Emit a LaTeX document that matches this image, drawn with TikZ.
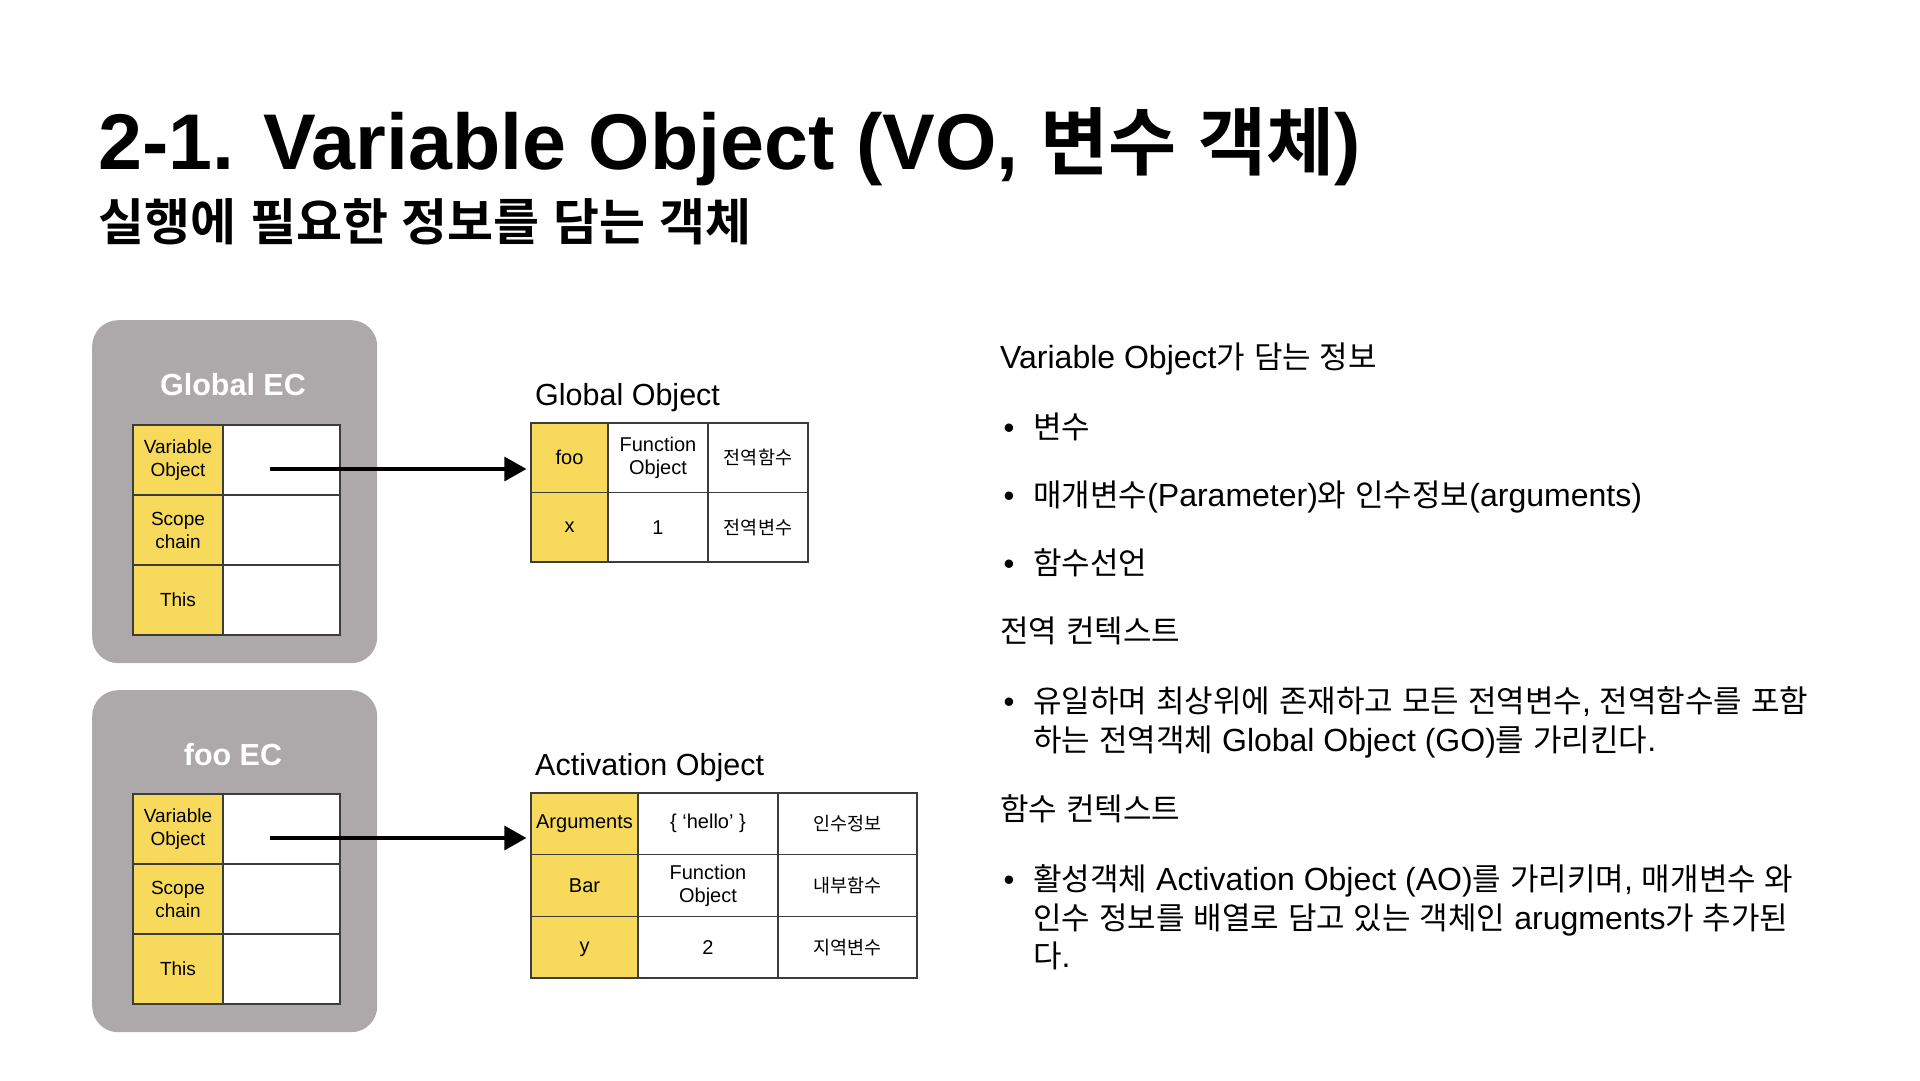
\documentclass[tikz,border=0pt]{standalone}
\usepackage{fontspec}
\usetikzlibrary{arrows.meta}
\setmainfont{Liberation Sans}
\newfontfamily\krfont{Noto Sans CJK KR}[BoldFont={Noto Sans CJK KR Bold}]
% Korean text at a given size: \kr{size}{text}
\newcommand\kr[2]{{\fontsize{#1}{#1}\selectfont\krfont #2}}
% Korean words in the right-hand column
\newcommand\hk[1]{\kr{31}{#1}}
% Korean words inside the table cells
\newcommand\ck[1]{\kr{18.5}{#1}}
\definecolor{ecgray}{RGB}{173,169,170}
\definecolor{cellyellow}{RGB}{247,217,92}
\definecolor{rulegray}{RGB}{60,60,60}

\begin{document}
\begin{tikzpicture}[x=1pt,y=-1pt,
  ecbox/.style={fill=ecgray, rounded corners=26pt, inner sep=0pt, anchor=north west},
  ectitle/.style={text=white, inner sep=0pt, font=\fontsize{30.5}{34}\selectfont\bfseries},
  cell/.style={draw=rulegray, line width=1.2pt, inner sep=0pt, align=center, anchor=center},
  keycell/.style={cell, fill=cellyellow},
  valcell/.style={cell, fill=white},
  ecfont/.style={font=\fontsize{19}{23}\selectfont},
  objfont/.style={font=\fontsize{20}{23}\selectfont},
  caption/.style={anchor=base west, inner sep=0pt, font=\fontsize{30.5}{34}\selectfont},
  pointer/.style={line width=3.2pt, -{Triangle[length=22pt,width=24pt]}, shorten >=4pt},
  body/.style={anchor=base west, inner sep=0pt, font=\fontsize{32}{36}\selectfont},
  bullet/.style={anchor=base, inner sep=0pt, font=\fontsize{31}{36}\selectfont}
]
\useasboundingbox (0,0) rectangle (1920,1080);
\fill[white] (0,0) rectangle (1920,1080);

% ---------- heading ----------
\node[anchor=base west, inner sep=0pt] (title) at (98,169)
  {\fontsize{79}{84}\selectfont\bfseries 2-1. Variable Object (VO, \kr{74}{변수} \kr{74}{객체})};
\node[anchor=base west, inner sep=0pt] (subtitle) at (98,240)
  {\fontsize{50}{56}\selectfont\bfseries\kr{50}{실행에} \kr{50}{필요한} \kr{50}{정보를} \kr{50}{담는} \kr{50}{객체}};

% ---------- Global execution context ----------
\node[ecbox, minimum width=285pt, minimum height=343pt] (gec) at (92,320) {};
\node[ectitle] (gectitle) at (233,385) {Global EC};
\node[keycell, ecfont, minimum width=90pt, minimum height=70pt] (gvo) at (178,460) {Variable\\Object};
\node[valcell, minimum width=117pt, minimum height=70pt] (gvov) at (281.5,460) {};
\node[keycell, ecfont, minimum width=90pt, minimum height=70pt] (gsc) at (178,530) {Scope\\chain};
\node[valcell, minimum width=117pt, minimum height=70pt] (gscv) at (281.5,530) {};
\node[keycell, ecfont, minimum width=90pt, minimum height=70pt] (gth) at (178,600) {This};
\node[valcell, minimum width=117pt, minimum height=70pt] (gthv) at (281.5,600) {};

% ---------- foo execution context ----------
\node[ecbox, minimum width=285pt, minimum height=342pt] (fec) at (92,690) {};
\node[ectitle] (fectitle) at (233,755) {foo EC};
\node[keycell, ecfont, minimum width=90pt, minimum height=70pt] (fvo) at (178,829) {Variable\\Object};
\node[valcell, minimum width=117pt, minimum height=70pt] (fvov) at (281.5,829) {};
\node[keycell, ecfont, minimum width=90pt, minimum height=70pt] (fsc) at (178,899) {Scope\\chain};
\node[valcell, minimum width=117pt, minimum height=70pt] (fscv) at (281.5,899) {};
\node[keycell, ecfont, minimum width=90pt, minimum height=70pt] (fth) at (178,969) {This};
\node[valcell, minimum width=117pt, minimum height=70pt] (fthv) at (281.5,969) {};

% ---------- Global Object ----------
\node[caption] (golabel) at (535,405) {Global Object};
\node[keycell, objfont, minimum width=77pt, minimum height=69.5pt] (gfoo) at (569.5,457.75) {foo};
\node[valcell, objfont, minimum width=100pt, minimum height=69.5pt] (gfoov) at (658,457.75) {Function\\Object};
\node[valcell, minimum width=100pt, minimum height=69.5pt] (gfoon) at (758,457.75) {\ck{전역함수}};
\node[keycell, objfont, minimum width=77pt, minimum height=69.5pt] (gx) at (569.5,527.25) {x};
\node[valcell, objfont, minimum width=100pt, minimum height=69.5pt] (gxv) at (658,527.25) {1};
\node[valcell, minimum width=100pt, minimum height=69.5pt] (gxn) at (758,527.25) {\ck{전역변수}};

% ---------- Activation Object ----------
\node[caption] (aolabel) at (535,775) {Activation Object};
\node[keycell, objfont, minimum width=107pt, minimum height=61.7pt] (aarg) at (584.5,823.8) {Arguments};
\node[valcell, objfont, minimum width=140pt, minimum height=61.7pt] (aargv) at (708,823.8) {\{ ‘hello’ \}};
\node[valcell, minimum width=139pt, minimum height=61.7pt] (aargn) at (847.5,823.8) {\ck{인수정보}};
\node[keycell, objfont, minimum width=107pt, minimum height=61.7pt] (abar) at (584.5,885.5) {Bar};
\node[valcell, objfont, minimum width=140pt, minimum height=61.7pt] (abarv) at (708,885.5) {Function\\Object};
\node[valcell, minimum width=139pt, minimum height=61.7pt] (abarn) at (847.5,885.5) {\ck{내부함수}};
\node[keycell, objfont, minimum width=107pt, minimum height=61.7pt, text height=14pt, text depth=4pt] (ay) at (584.5,947.2) {y};
\node[valcell, objfont, minimum width=140pt, minimum height=61.7pt] (ayv) at (708,947.2) {2};
\node[valcell, minimum width=139pt, minimum height=61.7pt] (ayn) at (847.5,947.2) {\ck{지역변수}};

% ---------- pointers ----------
\coordinate (gptr) at (270,469);
\coordinate (fptr) at (270,838);
\draw[pointer] (gptr) -- (gptr -| gfoo.west);
\draw[pointer] (fptr) -- (fptr -| aarg.west);

% ---------- notes ----------
\node[body] (h1) at (1000,368) {Variable Object\hk{가} \hk{담는} \hk{정보}};
\node[bullet] (b1) at (1009,438) {•};
\node[body] (t1) at (1033,438) {\hk{변수}};
\node[bullet] (b2) at (1009,506) {•};
\node[body] (t2) at (1033,506) {\hk{매개변수}(Parameter)\hk{와} \hk{인수정보}(arguments)};
\node[bullet] (b3) at (1009,574) {•};
\node[body] (t3) at (1033,574) {\hk{함수선언}};
\node[body] (h2) at (1000,642) {\hk{전역} \hk{컨텍스트}};
\node[bullet] (b4) at (1009,712) {•};
\node[body] (t4a) at (1033,712) {\hk{유일하며} \hk{최상위에} \hk{존재하고} \hk{모든} \hk{전역변수}, \hk{전역함수를} \hk{포함}};
\node[body] (t4b) at (1033,751) {\hk{하는} \hk{전역객체} Global Object (GO)\hk{를} \hk{가리킨다}.};
\node[body] (h3) at (1000,820) {\hk{함수} \hk{컨텍스트}};
\node[bullet] (b5) at (1009,890) {•};
\node[body] (t5a) at (1033,890) {\hk{활성객체} Activation Object (AO)\hk{를} \hk{가리키며}, \hk{매개변수} \hk{와}};
\node[body] (t5b) at (1033,929) {\hk{인수} \hk{정보를} \hk{배열로} \hk{담고} \hk{있는} \hk{객체인} arugments\hk{가} \hk{추가된}};
\node[body] (t5c) at (1033,967) {\hk{다}.};
\end{tikzpicture}
\end{document}
